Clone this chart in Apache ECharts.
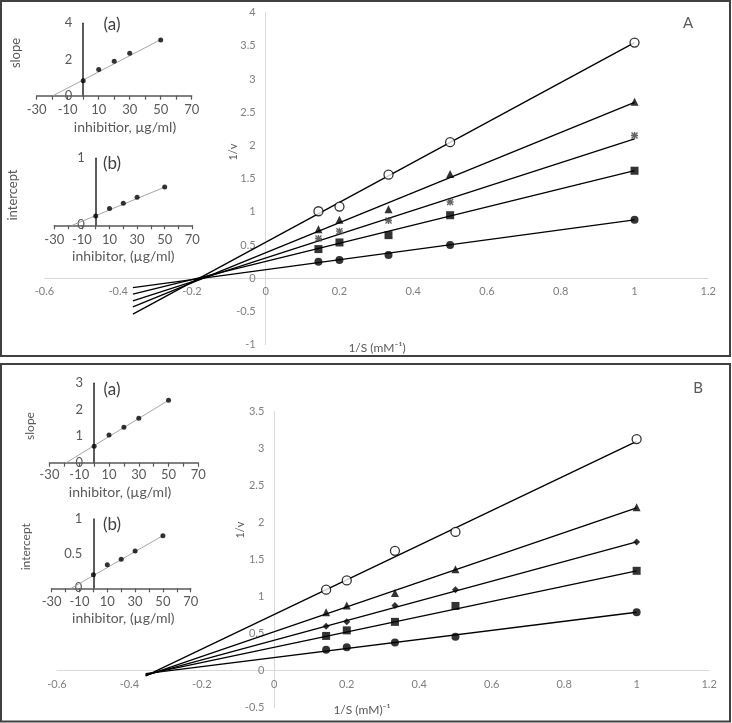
<!DOCTYPE html>
<html><head><meta charset="utf-8">
<script src="https://cdn.jsdelivr.net/npm/echarts@6/dist/echarts.min.js"></script>
<style>html,body{margin:0;padding:0;background:#fff}#c{width:732px;height:723px}</style>
</head><body><div id="c"></div>
<script>
// ---------- data ----------
const invS = [0.143, 0.2, 0.333, 0.5, 1];          // 1/S (mM^-1)
const inhibitor = [0, 10, 20, 30, 50];             // µg/ml

// Panel A: 1/v values
const aOpen   = [1.01, 1.08, 1.56, 2.05, 3.55];
const aTri    = [0.74, 0.88, 1.04, 1.57, 2.66];
const aStar   = [0.60, 0.71, 0.87, 1.15, 2.15];
const aSquare = [0.44, 0.54, 0.65, 0.95, 1.62];
const aDot    = [0.25, 0.275, 0.35, 0.50, 0.88];
// Panel A fitted lines (open, tri, star, square, dot): value at line start / end
const aLineX     = [-0.36, 1];
const aLineStart = [-0.54, -0.43, -0.34, -0.24, -0.14];
const aLineEnd   = [3.55, 2.65, 2.10, 1.62, 0.88];
// Panel A insets
const aSlope = [0.83, 1.45, 1.90, 2.35, 3.08];
const aSlopeTrendX = [-19.5, 50], aSlopeTrendY = [0, 3.1];
const aIntercept = [0.14, 0.25, 0.33, 0.42, 0.57];
const aInterTrendX = [-17, 50], aInterTrendY = [0, 0.57];

// Panel B: 1/v values
const bOpen    = [1.095, 1.22, 1.62, 1.875, 3.13];
const bTri     = [0.79, 0.88, 1.05, 1.37, 2.21];
const bDiamond = [0.60, 0.66, 0.88, 1.095, 1.74];
const bSquare  = [0.47, 0.545, 0.66, 0.875, 1.35];
const bDot     = [0.284, 0.316, 0.38, 0.46, 0.79];
const bLineX     = [-0.355, 1];
const bLineStart = [-0.07, -0.065, -0.06, -0.05, -0.04];
const bLineEnd   = [3.10, 2.20, 1.74, 1.35, 0.79];
// Panel B insets
const bSlope = [0.62, 1.05, 1.34, 1.68, 2.36];
const bSlopeTrendX = [-18.8, 50], bSlopeTrendY = [0, 2.36];
const bIntercept = [0.197, 0.34, 0.42, 0.54, 0.76];
const bInterTrendX = [-16, 50], bInterTrendY = [0, 0.76];

// ---------- chart ----------
const FONT = 'Lato, "Open Sans", sans-serif';
const starPath = 'path://M4,0L6,0L6,10L4,10Z M0,4L10,4L10,6L0,6Z M1.4,0L10,8.6L8.6,10L0,1.4Z M8.6,0L10,1.4L1.4,10L0,8.6Z';

const grids = [
  {left: 44.4, top: 12.7, width: 663.9, height: 332},    // A main
  {left: 36.7, top: 23.3, width: 155, height: 72.4},     // A (a)
  {left: 54.3, top: 158.3, width: 138, height: 67},      // A (b)
  {left: 56.9, top: 411.7, width: 652.2, height: 296},   // B main
  {left: 49.5, top: 383.3, width: 148.8, height: 79.4},  // B (a)
  {left: 51.7, top: 519, width: 139, height: 69.3}       // B (b)
];

// axis placed at the other axis' zero via offset (keeps labels beside the line)
function zeroOffset(len, min, max) { return -len * (0 - min) / (max - min); }

function mainX(g, ymin, ymax) {
  const gr = grids[g];
  return {type: 'value', gridIndex: g, min: -0.6, max: 1.2, interval: 0.2, position: 'bottom',
    offset: zeroOffset(gr.height, ymin, ymax),
    axisLine: {onZero: false, lineStyle: {color: '#d9d9d9', width: 1}},
    axisTick: {show: false}, splitLine: {show: false},
    axisLabel: {color: '#808080', fontSize: 11, fontFamily: FONT, margin: 8}};
}
function mainY(g, min, max) {
  const gr = grids[g];
  return {type: 'value', gridIndex: g, min: min, max: max, interval: 0.5, position: 'left',
    offset: zeroOffset(gr.width, -0.6, 1.2),
    axisLine: {show: true, onZero: false, lineStyle: {color: '#d9d9d9', width: 1}},
    axisTick: {show: false}, splitLine: {show: false},
    axisLabel: {color: '#808080', fontSize: 11, fontFamily: FONT, margin: 10}};
}
function insetX(g, margin) {
  return {type: 'value', gridIndex: g, min: -30, max: 70, interval: 20, position: 'bottom',
    axisLine: {onZero: false, lineStyle: {color: '#595959', width: 1.5}},
    axisTick: {show: true, length: 4, lineStyle: {color: '#595959', width: 1.2}},
    minorTick: {show: true, splitNumber: 2, length: 4, lineStyle: {color: '#595959', width: 1.2}},
    splitLine: {show: false},
    axisLabel: {color: '#595959', fontSize: 13, fontFamily: FONT, margin: margin}};
}
function insetY(g, max, interval) {
  const gr = grids[g];
  return {type: 'value', gridIndex: g, min: 0, max: max, interval: interval, position: 'left',
    offset: zeroOffset(gr.width, -30, 70),
    axisLine: {show: true, onZero: false, lineStyle: {color: '#262626', width: 1.5}},
    axisTick: {show: false}, splitLine: {show: false},
    axisLabel: {color: '#595959', fontSize: 13, fontFamily: FONT, margin: 11}};
}

const series = [];
function addLine(axis, xs, y0, y1, color, width) {
  series.push({type: 'line', xAxisIndex: axis, yAxisIndex: axis, data: [[xs[0], y0], [xs[1], y1]],
    symbol: 'none', silent: true, z: 2, lineStyle: {color: color, width: width}});
}
function addScatter(axis, xs, ys, symbol, size, style) {
  series.push({type: 'scatter', xAxisIndex: axis, yAxisIndex: axis,
    data: xs.map((x, i) => [x, ys[i]]), symbol: symbol, symbolSize: size, z: 3, itemStyle: style});
}

// Panel A main
for (let i = 0; i < 5; i++) addLine(0, aLineX, aLineStart[i], aLineEnd[i], '#000', 1.3);
addScatter(0, invS, aOpen, 'circle', 9, {color: '#fff', borderColor: '#000', borderWidth: 1.3});
addScatter(0, invS, aTri, 'triangle', 8, {color: '#000'});
addScatter(0, invS, aStar, starPath, 7, {color: '#404040'});
addScatter(0, invS, aSquare, 'rect', 8, {color: '#000'});
addScatter(0, invS, aDot, 'circle', 8, {color: '#000'});
// Panel A insets
addLine(1, aSlopeTrendX, aSlopeTrendY[0], aSlopeTrendY[1], '#a6a6a6', 1);
addScatter(1, inhibitor, aSlope, 'circle', 5, {color: '#000'});
addLine(2, aInterTrendX, aInterTrendY[0], aInterTrendY[1], '#a6a6a6', 1);
addScatter(2, inhibitor, aIntercept, 'circle', 5, {color: '#000'});

// Panel B main
for (let i = 0; i < 5; i++) addLine(3, bLineX, bLineStart[i], bLineEnd[i], '#000', 1.3);
addScatter(3, invS, bOpen, 'circle', 9, {color: '#fff', borderColor: '#000', borderWidth: 1.3});
addScatter(3, invS, bTri, 'triangle', 8, {color: '#000'});
addScatter(3, invS, bDiamond, 'diamond', 7, {color: '#000'});
addScatter(3, invS, bSquare, 'rect', 8, {color: '#000'});
addScatter(3, invS, bDot, 'circle', 8, {color: '#000'});
// Panel B insets
addLine(4, bSlopeTrendX, bSlopeTrendY[0], bSlopeTrendY[1], '#a6a6a6', 1);
addScatter(4, inhibitor, bSlope, 'circle', 5, {color: '#000'});
addLine(5, bInterTrendX, bInterTrendY[0], bInterTrendY[1], '#a6a6a6', 1);
addScatter(5, inhibitor, bIntercept, 'circle', 5, {color: '#000'});

function txt(text, x, y, size, color, rot) {
  return {type: 'text', x: x, y: y, rotation: rot ? Math.PI / 2 : 0, z: 10,
    style: {text: text, fill: color, font: size + 'px ' + FONT, align: 'center', verticalAlign: 'middle'}};
}

const option = {
  animation: false,
  backgroundColor: '#fff',
  grid: grids,
  xAxis: [mainX(0, -1, 4), insetX(1, 8), insetX(2, 8), mainX(3, -0.5, 3.5), insetX(4, 6), insetX(5, 7)],
  yAxis: [mainY(0, -1, 4), insetY(1, 4, 2), insetY(2, 1, 1), mainY(3, -0.5, 3.5), insetY(4, 3, 1), insetY(5, 1, 0.5)],
  series: series,
  graphic: [
    {type: 'rect', shape: {x: 1, y: 1, width: 729, height: 355}, style: {fill: 'none', stroke: '#404040', lineWidth: 2}, z: 20},
    {type: 'rect', shape: {x: 1, y: 364, width: 729, height: 357.5}, style: {fill: 'none', stroke: '#404040', lineWidth: 2}, z: 20},
    txt('(a)', 112, 25, 17, '#404040'),
    txt('slope', 16, 53, 13, '#595959', true),
    txt('inhibitior, µg/ml)', 125, 127, 14, '#595959'),
    txt('(b)', 112, 163.3, 17, '#404040'),
    txt('intercept', 13.3, 195, 13, '#595959', true),
    txt('inhibitor, (µg/ml)', 123.3, 256.7, 14, '#595959'),
    txt('1/v', 233, 152, 11, '#595959', true),
    txt('A', 688, 23, 15, '#595959'),
    txt('1/S (mM⁻¹)', 377, 348, 12, '#595959'),
    txt('(a)', 112, 389.3, 17, '#404040'),
    txt('slope', 30, 426, 12, '#595959', true),
    txt('inhibitor, (µg/ml)', 120, 492.7, 14, '#595959'),
    txt('(b)', 112, 525, 17, '#404040'),
    txt('intercept', 26, 546.7, 12, '#595959', true),
    txt('inhibitor, (µg/ml)', 123.3, 618.3, 14, '#595959'),
    txt('1/v', 240, 530, 11, '#595959', true),
    txt('B', 698, 388, 15, '#595959'),
    txt('1/S (mM)⁻¹', 362, 710, 12, '#595959')
  ]
};
const chart = echarts.init(document.getElementById('c'), null, {renderer: 'canvas'});
chart.setOption(option);
</script></body></html>
